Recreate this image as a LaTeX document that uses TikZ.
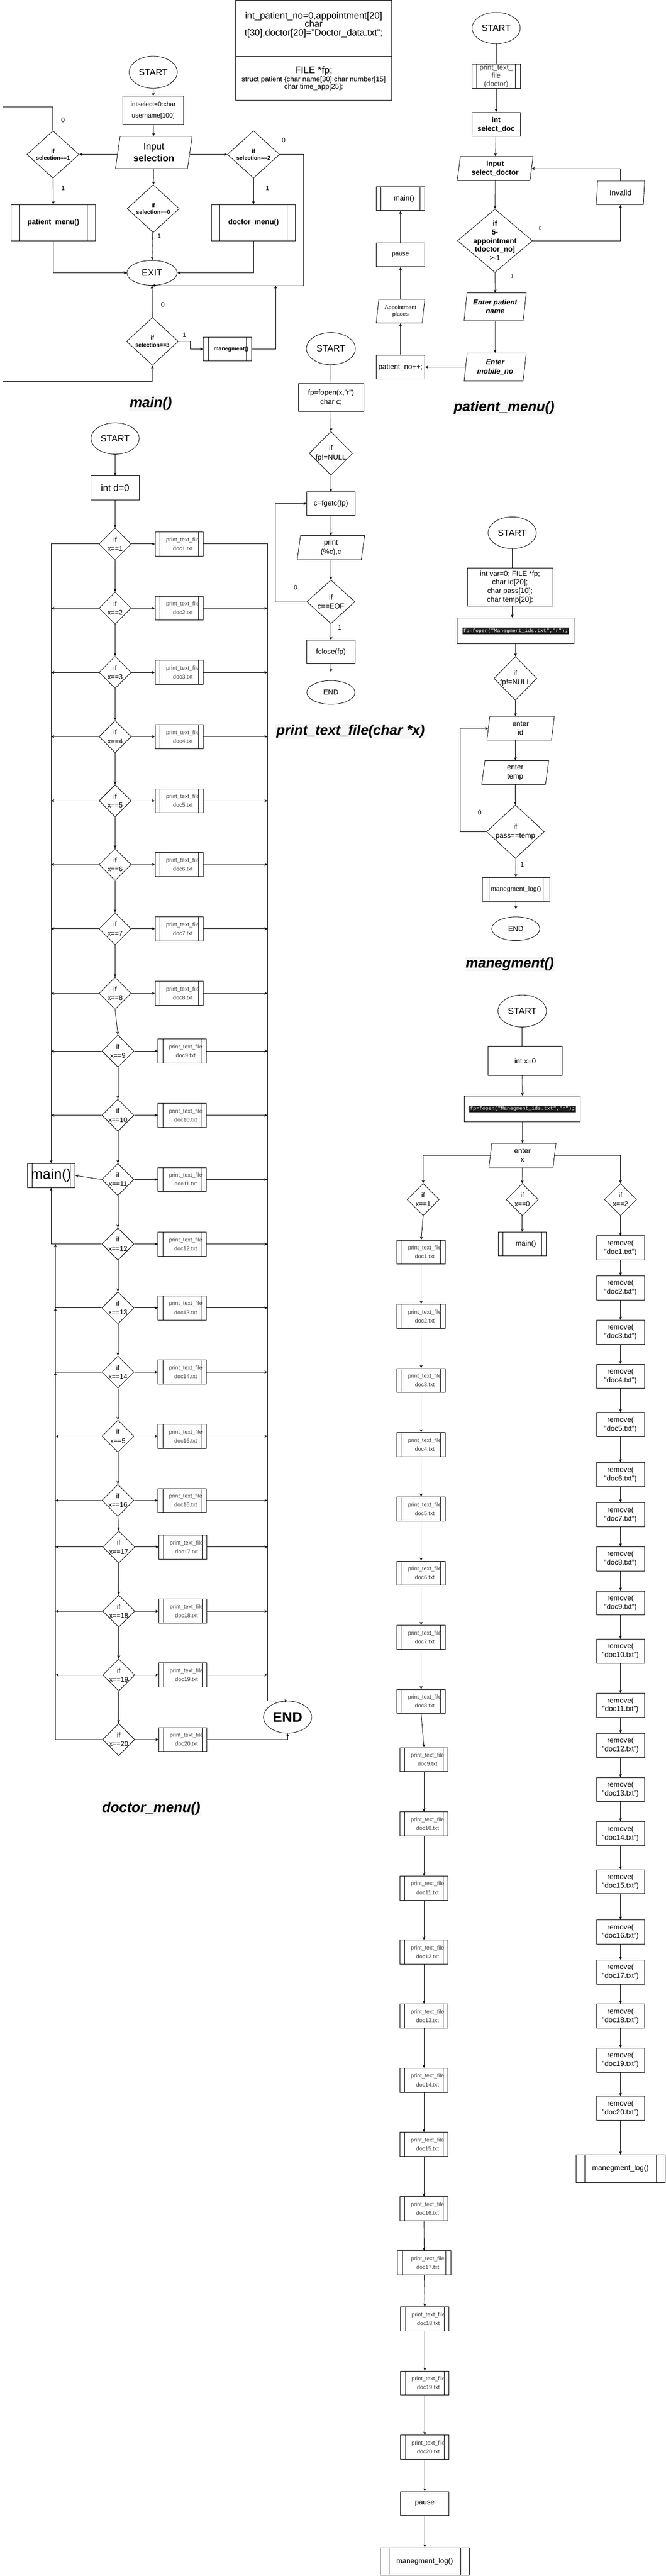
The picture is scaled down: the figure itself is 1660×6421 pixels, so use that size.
\documentclass[tikz,border=0pt]{standalone}
\usepackage{fontspec}
\setmainfont{Liberation Sans}
\setmonofont{Liberation Mono}
\usetikzlibrary{shapes.geometric,arrows.meta,calc}
\newcommand\myfs[2]{\fontsize{#1}{#2}\selectfont}
\newcommand\hlcode[1]{{\setlength\fboxsep{2pt}\colorbox{black!88}{\textcolor{white}{\ttfamily\myfs{12.8}{15}#1}}}}
\newcommand\sh{\hspace*{18pt}}
\newcommand\dnode[6]{%
  \node[dec, minimum width=#3, minimum height=#4] (#1) at (#2) {};
  \node[font=#5, align=center, inner sep=0pt] (#1t) at (#1) {#6};}
\tikzset{
  conn/.style={draw, line width=1.1pt, -{Stealth[length=8pt,width=7pt]}},
  plain/.style={draw, line width=1.1pt},
  term/.style={ellipse, draw, line width=1.1pt, inner sep=0pt, align=center},
  proc/.style={rectangle, draw, line width=1.1pt, inner sep=0pt, align=center},
  subproc/.style={proc, path picture={
      \draw[line width=1.1pt] ([xshift=#1]path picture bounding box.south west) -- ([xshift=#1]path picture bounding box.north west);
      \draw[line width=1.1pt] ([xshift=-#1]path picture bounding box.south east) -- ([xshift=-#1]path picture bounding box.north east);}},
  subproc/.default=12pt,
  io/.style={trapezium, trapezium left angle=78, trapezium right angle=102, trapezium stretches body,
      draw, line width=1.1pt, inner sep=0pt, align=center},
  dec/.style={diamond, draw, line width=1.1pt, inner sep=0pt},
  ttl/.style={font=\bfseries\itshape\myfs{35}{40}, fill=gray!7, inner sep=2pt},
  lbl/.style={font=\myfs{16}{18}, inner sep=0pt},
  slbl/.style={font=\myfs{12}{14}, inner sep=0pt},
}
\begin{document}
\begin{tikzpicture}[x=1pt, y=-1pt]
\fill[white] (0,0) rectangle (1660,6421);
\useasboundingbox (0,0) rectangle (1660,6421);

% ---------------- header ----------------
\node[draw, line width=1.1pt, minimum width=390, minimum height=249, inner sep=0pt] (hdr) at (782,125.5) {};
\draw[plain] (hdr.west |- 0,140) -- (hdr.east |- 0,140);
\node[font=\myfs{23}{21.5}, align=center, inner sep=0pt] (hdrA) at (782,62) {int\_patient\_no=0,appointment[20]\\char\\t[30],doctor[20]="Doctor\_data.txt";};
\node[font=\myfs{24}{26}, inner sep=0pt] (hdrB) at (782,177) {FILE *fp;};
\node[font=\myfs{17.7}{17.5}, align=center, inner sep=0pt] (hdrC) at (782,208) {struct patient \{char name[30];char number[15]\\char time\_app[25];};

% ---------------- main() ----------------
\node[term, minimum width=120, minimum height=80, font=\myfs{22.6}{26}] (mStart) at (382,180) {START};
\node[proc, minimum width=152, minimum height=70, font=\myfs{16}{29}] (mInit) at (382,275) {intselect=0:char\\username[100]};
\node[io, minimum width=191, minimum height=80, trapezium left angle=76, trapezium right angle=104, font=\myfs{23.5}{29.5}] (mInput) at (383.5,380) {Input\\\textbf{selection}};
\dnode{mD1}{132,385}{130}{118}{\bfseries\myfs{14}{17}}{if\\selection==1}
\dnode{mD2}{632,385}{130}{118}{\bfseries\myfs{14}{17}}{if\\selection==2}
\dnode{mD0}{382,520}{130}{119}{\bfseries\myfs{14}{17}}{if\\selection==0}
\node[subproc=21pt, minimum width=210, minimum height=90, font=\bfseries\myfs{18}{22}] (mPat) at (133,555) {patient\_menu()};
\node[subproc=21pt, minimum width=210, minimum height=90, font=\bfseries\myfs{18}{22}] (mDoc) at (632,555) {doctor\_menu()};
\node[term, minimum width=125, minimum height=62, font=\myfs{23}{26}] (mExit) at (379,680) {EXIT};
\dnode{mD3}{380,851}{129}{119}{\bfseries\myfs{14}{17}}{if\\selection==3}
\node[subproc, minimum width=120, minimum height=60, font=\bfseries\myfs{13.8}{16}] (mMan) at (567,870) {\sh manegment()};

\draw[conn] (mStart) -- (mInit);
\draw[conn] (mInit) -- (mInput);
\draw[conn] (mInput.west |- mD1) -- (mD1.east);
\draw[conn] (mInput.east |- mD2) -- (mD2.west);
\draw[conn] (mInput) -- (mD0);
\draw[conn] (mD1) -- (mPat);
\draw[conn] (mD2) -- (mDoc);
\draw[conn] (mD0) -- (mExit);
\draw[conn] (mPat.south) |- (mExit.west);
\draw[conn] (mDoc.south) |- (mExit.east);
\draw[conn] (mD2.east) -- (757,385) |- (mExit.south);
\draw[conn] (mD3) -- (mExit);
\draw[conn] (mD3.east) -- (475,851) |- (mMan.west);
\draw[conn] (mMan.east) -| (687,711);
\draw[conn] (mD1.north) |- (7,266) |- ($(mD3.south)+(0,40)$) -- (mD3.south);

\node[lbl] (mL1) at (157,299) {0};
\node[lbl] (mL2) at (157,469) {1};
\node[lbl] (mL3) at (707,349) {0};
\node[lbl] (mL4) at (667,469) {1};
\node[lbl] (mL5) at (397,589) {1};
\node[lbl] (mL6) at (406,759) {0};
\node[lbl] (mL7) at (460,835) {1};
\node[ttl] (mTitle) at (376,1006) {main()};

% ---------------- patient_menu() ----------------
\node[term, minimum width=120, minimum height=78, font=\myfs{22.6}{26}] (pStart) at (1237,70) {START};
\node[subproc, minimum width=120, minimum height=60, font=\myfs{17.6}{21}, text=black!75] (pPrint) at (1237,190) {print\_text\_\\file\\(doctor)};
\node[proc, minimum width=120, minimum height=60, font=\bfseries\myfs{18}{22}] (pSel) at (1237,310) {int\\select\_doc};
\node[io, minimum width=189, minimum height=60, font=\bfseries\myfs{18}{22}] (pIn) at (1234.5,420) {Input\\select\_doctor};
\dnode{pD}{1234,600}{187}{158}{\bfseries\myfs{18}{21.4}}{if\\5-\\appointment\\tdoctor\_no]\\\mdseries >-1}
\node[io, minimum width=120, minimum height=59, font=\myfs{19}{22}] (pInv) at (1547,480.5) {Invalid};
\node[io, minimum width=155, minimum height=69, font=\bfseries\itshape\myfs{18}{22}] (pName) at (1234.5,764.5) {Enter patient\\name};
\node[io, minimum width=155, minimum height=70, font=\bfseries\itshape\myfs{18}{22}] (pMob) at (1234.5,915) {Enter\\mobile\_no};
\node[proc, minimum width=121, minimum height=60, font=\myfs{18}{22}] (pNo) at (998.5,915) {patient\_no++;};
\node[io, minimum width=121, minimum height=59, font=\myfs{14}{17}] (pApp) at (998.5,775.5) {Appointment\\places};
\node[proc, minimum width=121, minimum height=59, font=\myfs{15.5}{18}] (pPause) at (998.5,635.5) {pause};
\node[subproc, minimum width=121, minimum height=60, font=\myfs{18}{22}] (pMain) at (998.5,495) {\sh main()};

\draw[plain] (pStart) -- (pPrint);
\draw[conn] (pPrint) -- (pSel);
\draw[conn] (pSel) -- (pIn);
\draw[conn] (pIn) -- (pD);
\draw[conn] (pD) -- (pName);
\draw[conn] (pName) -- (pMob);
\draw[conn] (pMob) -- (pNo);
\draw[conn] (pNo) -- (pApp);
\draw[conn] (pApp) -- (pPause);
\draw[conn] (pPause) -- (pMain);
\draw[conn] (pD.east) -| (pInv.south);
\draw[conn] (pInv.north) |- (pIn.east);
\node[slbl] (pL0) at (1347,569) {0};
\node[slbl] (pL1) at (1277,689) {1};
\node[ttl] (pTitle) at (1257,1017) {patient\_menu()};

% ---------------- print_text_file(char *x) ----------------
\node[term, minimum width=122, minimum height=80, font=\myfs{22.6}{26}] (tStart) at (825,869) {START};
\node[proc, minimum width=163, minimum height=69, font=\myfs{18}{22}] (tOpen) at (825.5,990.5) {fp=fopen(x,"r")\\char c;};
\dnode{tD1}{825,1130}{108}{109}{\myfs{18}{22}}{if\\fp!=NULL}
\node[proc, minimum width=120, minimum height=59, font=\myfs{18}{22}] (tGet) at (825,1255.5) {c=fgetc(fp)};
\node[io, minimum width=168, minimum height=60, font=\myfs{18}{22}] (tPrint) at (825,1365) {print\\(\%c),c};
\dnode{tD2}{825,1500}{120}{109}{\myfs{18}{22}}{if\\c==EOF}
\node[proc, minimum width=120, minimum height=59, font=\myfs{18}{22}] (tClose) at (825,1625.5) {fclose(fp)};
\coordinate (tGap) at (825,1675);
\node[term, minimum width=120, minimum height=59, font=\myfs{18}{22}] (tEnd) at (825,1726) {END};

\draw[plain] (tStart) -- (tOpen);
\draw[conn] (tOpen) -- (tD1);
\draw[conn] (tD1) -- (tGet);
\draw[conn] (tGet) -- (tPrint);
\draw[conn] (tPrint) -- (tD2);
\draw[conn] (tD2) -- (tClose);
\draw[conn] (tClose.south) -- (tGap);
\draw[conn] (tD2.west) -- ++(-78,0) |- (tGet.west);
\node[lbl] (tL0) at (737,1464) {0};
\node[lbl] (tL1) at (847,1564) {1};
\node[ttl] (tTitle) at (874,1823) {print\_text\_file(char *x)};

% ---------------- manegment() ----------------
\node[term, minimum width=120, minimum height=79, font=\myfs{22.6}{26}] (gStart) at (1277,1328) {START};
\node[proc, minimum width=213, minimum height=95, font=\myfs{18}{21.6}] (gInit) at (1271.5,1463.5) {int var=0; FILE *fp;\\char id[20];\\char pass[10];\\char temp[20];};
\node[proc, minimum width=291, minimum height=65] (gOpen) at (1285.5,1572.5) {\hlcode{fp=fopen("Manegment\_ids.txt","r");}};
\dnode{gD1}{1285,1691}{107}{109}{\myfs{18}{22}}{if\\fp!=NULL}
\node[io, minimum width=168, minimum height=59, font=\myfs{18}{22}] (gId) at (1298,1815.5) {enter\\id};
\node[io, minimum width=167, minimum height=59, font=\myfs{18}{22}] (gTemp) at (1284.5,1925.5) {enter\\temp};
\dnode{gD2}{1285,2073}{144}{133}{\myfs{18}{22}}{if\\pass==temp}
\node[subproc=17pt, minimum width=169, minimum height=59, font=\myfs{16}{20}] (gLog) at (1286.5,2216.5) {manegment\_log()};
\coordinate (gGap) at (1286,2266);
\node[term, minimum width=120, minimum height=59, font=\myfs{18}{22}] (gEnd) at (1286,2315) {END};

\draw[plain] (gStart.south) -- (gStart.south |- gInit.north);
\draw[conn] (gStart.south |- gInit.south) -- (gStart.south |- gOpen.north);
\draw[conn] (gOpen) -- (gD1);
\draw[conn] (gD1.south) -- (gD1.south |- gId.north);
\draw[conn] (gD1.south |- gId.south) -- (gD1.south |- gTemp.north);
\draw[conn] (gTemp) -- (gD2);
\draw[conn] (gD2) -- (gLog);
\draw[conn] (gLog.south) -- (gGap);
\draw[conn] (gD2.west) -- ++(-65,0) |- (gId.west);
\node[lbl] (gL0) at (1196,2025) {0};
\node[lbl] (gL1) at (1302,2155) {1};
\node[ttl] (gTitle) at (1271,2403) {manegment()};

% ---------------- doctor_menu() ----------------
\node[term, minimum width=120, minimum height=78, font=\myfs{22.6}{26}] (dStart) at (287,1093) {START};
\node[proc, minimum width=120, minimum height=60, font=\myfs{23.4}{26}] (dInit) at (287,1216) {int d=0};
\foreach \k/\y/\x/\bx/\lab in {1/1356/287/447/1, 2/1516/287/447/2, 3/1676/287/447/3, 4/1836/287/447/4,
    5/1996/287/447/5, 6/2155/287/447/6, 7/2315/287/447/7, 8/2476/287/447/8, 9/2620/294/454/9,
    10/2780/294/454/10, 11/2940/294/454/11, 12/3101/294/454/12, 13/3260/294/454/13, 14/3420/294/454/14,
    15/3580/294/454/5, 16/3740/294/454/16, 17/3856/296/456/17, 18/4016/296/456/18, 19/4175/296/456/19,
    20/4336/296/456/20}{
  \dnode{d\k}{\x,\y}{80}{80}{\myfs{17}{22}}{if\\x==\lab}
  \node[subproc, minimum width=120, minimum height=60, font=\myfs{14}{22}, text=black!75] (b\k) at (\bx,\y) {\sh print\_text\_file\\\sh doc\k.txt};
}
\node[subproc, minimum width=119, minimum height=60, font=\myfs{35.5}{40}] (dMain) at (127.5,2930) {main()};
\node[term, minimum width=120, minimum height=80, font=\bfseries\myfs{35}{40}] (dEnd) at (717,4280) {END};
\coordinate (R) at (667,0);
\coordinate (L2) at (138,0);

\draw[conn] (dStart) -- (dInit);
\draw[conn] (dInit) -- (d1);
\foreach \k in {1,...,20}{ \draw[conn] (d\k.east) -- (b\k.west); }
\foreach \k [evaluate=\k as \n using int(\k+1)] in {1,...,19}{ \draw[conn] (d\k.south) -- (d\n.north); }
\draw[conn] (b1.east) -| (R |- dEnd.north) -- (dEnd.north);
\foreach \k in {2,...,19}{ \draw[conn] (b\k.east) -- (b\k.east -| R); }
\draw[conn] (b20.east) -| (dEnd.south);
\draw[conn] (d1.west) -| (dMain.north);
\foreach \k in {2,...,10}{ \draw[conn] (d\k.west) -- (d\k.west -| dMain.north); }
\draw[conn] (d11.west) -- (dMain.east);
\draw[conn] (d12.west) -| (dMain.south);
\draw[plain] (d20.west) -- (d20.west -| L2);
\draw[conn] (d20.west -| L2) -- (d14.west -| L2);
\draw[conn] (d14.west -| L2) -- (d13.west -| L2);
\draw[conn] (d13.west -| L2) -- (d12.west -| L2);
\draw[plain] (d13.west) -- (d13.west -| L2);
\draw[plain] (d14.west) -- (d14.west -| L2);
\foreach \k in {15,...,19}{ \draw[conn] (d\k.west) -- (d\k.west -| L2); }
\node[ttl] (dTitle) at (377,4508) {doctor\_menu()};

% ---------------- manegment_log() ----------------
\node[term, minimum width=121, minimum height=80, font=\myfs{22.6}{26}] (lStart) at (1302,2520) {START};
\node[proc, minimum width=185, minimum height=73, font=\myfs{18}{22}] (lInit) at (1309.5,2644.5) {int x=0};
\node[proc, minimum width=289, minimum height=64] (lOpen) at (1302.5,2764) {\hlcode{fp=fopen("Manegment\_ids.txt","r");}};
\node[io, minimum width=167, minimum height=60, font=\myfs{18}{22}] (lEnter) at (1302.5,2880) {enter\\x};
\dnode{lD1}{1055,2990}{80}{80}{\myfs{17}{22}}{if\\x==1}
\dnode{lD0}{1302,2990}{80}{80}{\myfs{17}{22}}{if\\x==0}
\dnode{lD2}{1547,2990}{80}{80}{\myfs{17}{22}}{if\\x==2}
\node[subproc, minimum width=120, minimum height=59, font=\myfs{18}{22}] (lMain) at (1302,3100.5) {\sh main()};
\foreach \k/\y/\x/\w in {1/3121/1050/120, 2/3281/1050/120, 3/3441/1050/120, 4/3601/1050/120, 5/3761/1050/120,
    6/3921/1050/120, 7/4081/1050/120, 8/4241/1050/120, 9/4386/1057/120, 10/4546/1057/120, 11/4706/1057/120,
    12/4866/1057/120, 13/5025/1057/120, 14/5185/1057/120, 15/5345/1057/120, 16/5505/1057/120,
    17/5640.5/1057.5/133, 18/5780/1059/120, 19/5940/1059/120, 20/6100/1059/120}{
  \node[subproc, minimum width=\w, minimum height=60, font=\myfs{14}{22}, text=black!75] (q\k) at (\x,\y) {\sh print\_text\_file\\\sh doc\k.txt};
}
\node[proc, minimum width=120, minimum height=59, font=\myfs{18}{22}] (lPause) at (1059,6240.5) {pause};
\node[subproc=22pt, minimum width=222, minimum height=69, font=\myfs{18}{22}] (lLogB) at (1059,6385) {manegment\_log()};
\foreach \k/\y in {1/3110.5, 2/3210, 3/3320.5, 4/3430.5, 5/3551, 6/3675.5, 7/3775.5, 8/3885.5, 9/3995.5,
    10/4115.5, 11/4250.5, 12/4350.5, 13/4460.5, 14/4570.5, 15/4690.5, 16/4815.5, 17/4915.5, 18/5025,
    19/5135, 20/5255}{
  \node[proc, minimum width=120, minimum height=60, font=\myfs{18}{21.6}] (r\k) at (1547,\y) {remove(\\"doc\k.txt")};
}
\node[subproc=22pt, minimum width=222, minimum height=69, font=\myfs{18}{22}] (lLogR) at (1547,5405.5) {manegment\_log()};

\draw[plain] (lStart.south) -- (lStart.south |- lInit.north);
\draw[conn] (lStart.south |- lInit.south) -- (lOpen.north);
\draw[conn] (lOpen) -- (lEnter);
\draw[conn] (lEnter.west) -| (lD1.north);
\draw[conn] (lEnter.east) -| (lD2.north);
\draw[conn] (lEnter) -- (lD0);
\draw[conn] (lD0) -- (lMain);
\draw[conn] (lD1.south) -- (q1.north);
\foreach \k [evaluate=\k as \n using int(\k+1)] in {1,...,19}{ \draw[conn] (q\k.south) -- (q\n.north); }
\draw[conn] (q20) -- (lPause);
\draw[conn] (lPause) -- (lLogB);
\draw[conn] (lD2) -- (r1);
\foreach \k [evaluate=\k as \n using int(\k+1)] in {1,...,19}{ \draw[conn] (r\k) -- (r\n); }
\draw[conn] (r20) -- (lLogR);
\end{tikzpicture}
\end{document}
